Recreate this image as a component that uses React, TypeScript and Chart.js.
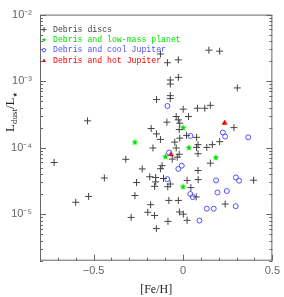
import React, { useEffect, useRef } from "react";
import { Chart, registerables } from "chart.js";

Chart.register(...registerables);

// ---- data ----
const seriesLabels = [
  "Debris discs",
  "Debris and low-mass planet",
  "Debris and cool Jupiter",
  "Debris and hot Jupiter",
];

const discsFeH = [
  -0.534, -0.721, -0.44, -0.32, -0.26, -0.528, -0.6, -0.269, -0.29, -0.228,
  0.145, 0.205, -0.126, -0.026, -0.087, -0.026, -0.071, -0.071, 0.304, -0.148,
  -0.071, -0.071, 0.001, 0.081, 0.122, 0.153, -0.09, -0.038, -0.026, -0.018,
  0.031, -0.021, -0.178, -0.148, -0.126, -0.018, -0.046, 0.02, 0.076, -0.168,
  -0.038, 0.076, 0.084, 0.133, 0.164, 0.205, 0.285, -0.021, -0.06, -0.032,
  0.084, 0.153, -0.126, -0.117, 0.084, -0.186, -0.153, -0.153, -0.109, 0.023,
  0.085, 0.395, -0.071, -0.085, -0.159, 0.044, 0.074, -0.079, -0.026, -0.181,
  0.236, -0.197, -0.159, -0.02, 0.002, 0.023, -0.084, -0.149,
];
const discsL = [
  2.53e-4, 5.98e-5, 3.5e-5, 6.68e-5, 2.99e-5, 1.85e-5, 1.51e-5, 1.91e-5, 8.95e-6, 4.79e-5,
  2.92e-3, 2.82e-3, 2.56e-3, 2.09e-3, 1.89e-3, 1.14e-3, 1.04e-3, 9.04e-4, 7.91e-4, 5.28e-4,
  6.05e-4, 5.47e-4, 3.79e-4, 3.91e-4, 3.91e-4, 4.33e-4, 2.42e-4, 2.94e-4, 2.62e-4, 2.33e-4,
  2.94e-4, 1.87e-4, 1.94e-4, 1.61e-4, 1.33e-4, 1.39e-4, 1.21e-4, 1.53e-4, 1.43e-4, 9.9e-5,
  9.9e-5, 1.01e-4, 1.11e-4, 1.01e-4, 1.11e-4, 1.23e-4, 2.0e-4, 7.96e-5, 6.73e-5, 7.2e-5,
  8.1e-5, 5.85e-5, 4.82e-5, 5.36e-5, 4.53e-5, 3.66e-5, 3.56e-5, 3.06e-5, 3.44e-5, 3.22e-5,
  3.31e-5, 3.24e-5, 2.84e-5, 2.59e-5, 2.62e-5, 2.51e-5, 1.82e-5, 1.61e-5, 1.61e-5, 1.39e-5,
  1.42e-5, 1.07e-5, 9.55e-6, 1.08e-5, 1.0e-5, 8.09e-6, 7.8e-6, 6.07e-6,
];

const lowMassFeH = [-0.269, 0.001, 0.033, -0.098, 0.184, 0.0];
const lowMassL = [1.22e-4, 2.01e-4, 1.01e-4, 7.4e-5, 7.15e-5, 2.61e-5];

const coolFeH = [
  -0.087, 0.042, 0.223, 0.236, 0.365, -0.078, -0.007, -0.026, -0.088, 0.185,
  0.296, 0.314, 0.041, 0.055, 0.193, 0.245, 0.133, 0.172, 0.295, 0.092,
];
const coolL = [
  4.23e-4, 1.5e-4, 1.69e-4, 1.47e-4, 1.43e-4, 8.45e-5, 5.36e-5, 4.79e-5, 3.36e-5, 3.22e-5,
  3.56e-5, 3.19e-5, 2.01e-5, 1.81e-5, 2.12e-5, 2.23e-5, 1.21e-5, 1.21e-5, 1.32e-5, 8.01e-6,
];

const hotFeH = [0.233, -0.067];
const hotL = [2.35e-4, 7.91e-5];

const xTickValues = [-0.5, 0, 0.5];
const yTickValues = [1e-5, 1e-4, 1e-3, 1e-2];
const xRange = [-0.8, 0.5];
const yRange = [2e-6, 1e-2];

// ---- styles ----
const COLORS = ["#444444", "#00e000", "#5050ff", "#ff0000"];
const AXIS_COLOR = "#666666";

const SUP: Record<string, string> = {
  "-": "\u207B", "0": "\u2070", "1": "\u00B9", "2": "\u00B2", "3": "\u00B3",
  "4": "\u2074", "5": "\u2075", "6": "\u2076", "7": "\u2077", "8": "\u2078", "9": "\u2079",
};

function starPath(ctx: CanvasRenderingContext2D, cx: number, cy: number, r: number) {
  ctx.beginPath();
  for (let i = 0; i < 10; i++) {
    const rr = i % 2 === 0 ? r : r * 0.45;
    const a = -Math.PI / 2 + (i * Math.PI) / 5;
    const px = cx + rr * Math.cos(a);
    const py = cy + rr * Math.sin(a);
    if (i === 0) ctx.moveTo(px, py);
    else ctx.lineTo(px, py);
  }
  ctx.closePath();
}

function makeStar(r: number, color: string) {
  const c = document.createElement("canvas");
  const s = Math.ceil(r * 2 + 2);
  c.width = s;
  c.height = s;
  const g = c.getContext("2d")!;
  g.fillStyle = color;
  starPath(g, s / 2, s / 2 + 0.3, r);
  g.fill();
  return c;
}

const zip = (xs: number[], ys: number[]) => xs.map((x, i) => ({ x, y: ys[i] }));

const decorPlugin = {
  id: "decor",
  afterDatasetsDraw(chart: any) {
    const ctx: CanvasRenderingContext2D = chart.ctx;
    const { left, right, top, bottom } = chart.chartArea;
    const xs = chart.scales.x;
    const ys = chart.scales.y;
    ctx.save();
    // frame
    ctx.strokeStyle = AXIS_COLOR;
    ctx.lineWidth = 1;
    ctx.strokeRect(left + 0.5, top + 0.5, right - left - 1, bottom - top - 1);
    // y ticks (left and right, inward)
    ctx.beginPath();
    for (let d = -6; d <= -2; d++) {
      for (let m = 1; m <= 9; m++) {
        const v = m * Math.pow(10, d);
        if (v < yRange[0] * 0.999 || v > yRange[1] * 1.001) continue;
        const py = Math.round(ys.getPixelForValue(v)) + 0.5;
        const len = m === 1 ? 6 : 3;
        ctx.moveTo(left, py);
        ctx.lineTo(left + len, py);
        ctx.moveTo(right, py);
        ctx.lineTo(right - len, py);
      }
    }
    // x ticks (bottom, inward)
    for (let i = -8; i <= 5; i++) {
      const v = i / 10;
      const px = Math.round(xs.getPixelForValue(v)) + 0.5;
      const len = i % 5 === 0 ? 6 : 3;
      ctx.moveTo(px, bottom);
      ctx.lineTo(px, bottom - len);
    }
    ctx.stroke();

    // legend
    const lx = left + 4;
    const tx = left + 13;
    const rowY = [top + 15, top + 25.3, top + 35.6, top + 46];
    ctx.font = "8.2px 'Liberation Mono', monospace";
    ctx.textBaseline = "middle";
    ctx.textAlign = "left";
    rowY.forEach((yy, i) => {
      ctx.fillStyle = COLORS[i];
      ctx.strokeStyle = COLORS[i];
      ctx.lineWidth = 1;
      if (i === 0) {
        ctx.beginPath();
        ctx.moveTo(lx - 2.5, yy);
        ctx.lineTo(lx + 2.5, yy);
        ctx.moveTo(lx, yy - 2.5);
        ctx.lineTo(lx, yy + 2.5);
        ctx.stroke();
      } else if (i === 1) {
        starPath(ctx, lx, yy, 2.4);
        ctx.fill();
      } else if (i === 2) {
        ctx.beginPath();
        ctx.arc(lx, yy, 1.7, 0, Math.PI * 2);
        ctx.stroke();
      } else {
        ctx.beginPath();
        ctx.moveTo(lx, yy - 2);
        ctx.lineTo(lx + 2, yy + 1.5);
        ctx.lineTo(lx - 2, yy + 1.5);
        ctx.closePath();
        ctx.fill();
      }
      ctx.fillText(seriesLabels[i], tx, yy);
    });

    // y title: L_dust / L_star
    ctx.fillStyle = "#222222";
    ctx.textBaseline = "alphabetic";
    const big = "13px 'Liberation Serif', serif";
    const small = "9px 'Liberation Serif', serif";
    const parts: [string, string, number][] = [
      ["L", big, 0],
      ["dust", small, 3],
      ["/L", big, 0],
      ["\u2605", "6px 'DejaVu Sans', sans-serif", 3],
    ];
    let total = 0;
    parts.forEach(([t, f]) => {
      ctx.font = f;
      total += ctx.measureText(t).width;
    });
    ctx.save();
    ctx.translate(14, 112 + total / 2);
    ctx.rotate(-Math.PI / 2);
    let cx = 0;
    parts.forEach(([t, f, dy]) => {
      ctx.font = f;
      ctx.fillText(t, cx, dy);
      cx += ctx.measureText(t).width;
    });
    ctx.restore();

    // x title
    ctx.font = "12px 'Liberation Serif', serif";
    ctx.textAlign = "center";
    ctx.textBaseline = "middle";
    ctx.fillText("[Fe/H]", (left + right) / 2, 290);
    ctx.restore();
  },
};

export default function App() {
  const ref = useRef<HTMLCanvasElement | null>(null);
  useEffect(() => {
    if (!ref.current) return;
    const star = makeStar(3.5, COLORS[1]);
    const chart = new Chart(ref.current, {
      type: "scatter",
      data: {
        datasets: [
          {
            label: seriesLabels[0],
            data: zip(discsFeH, discsL),
            pointStyle: "cross",
            pointRadius: 3.5,
            borderColor: COLORS[0],
            backgroundColor: COLORS[0],
            borderWidth: 1,
          },
          {
            label: seriesLabels[1],
            data: zip(lowMassFeH, lowMassL),
            pointStyle: star as any,
            pointRadius: 3.5,
            borderColor: COLORS[1],
            backgroundColor: COLORS[1],
          },
          {
            label: seriesLabels[2],
            data: zip(coolFeH, coolL),
            pointStyle: "circle",
            pointRadius: 2.5,
            borderColor: COLORS[2],
            backgroundColor: "rgba(0,0,0,0)",
            borderWidth: 1,
          },
          {
            label: seriesLabels[3],
            data: zip(hotFeH, hotL),
            pointStyle: "triangle",
            pointRadius: 3,
            borderColor: COLORS[3],
            backgroundColor: COLORS[3],
            borderWidth: 0.5,
          },
        ],
      },
      options: {
        responsive: false,
        animation: false,
        events: [],
        layout: { padding: { top: 7, right: 8, left: 0, bottom: 0 } },
        plugins: {
          legend: { display: false },
          tooltip: { enabled: false },
          title: { display: false },
        },
        scales: {
          x: {
            type: "linear",
            min: xRange[0],
            max: xRange[1],
            afterBuildTicks: (s: any) => {
              s.ticks = xTickValues.map((v) => ({ value: v }));
            },
            afterFit: (s: any) => {
              s.height = 36.3;
            },
            grid: { display: false, drawTicks: false },
            border: { display: false },
            ticks: {
              autoSkip: false,
              maxRotation: 0,
              padding: 4,
              color: "#666666",
              font: { family: "'Liberation Sans', sans-serif", size: 11 },
              callback: (v: any) => {
                const n = Number(v);
                if (n === 0) return "0";
                return n < 0 ? "\u2212" + String(Math.abs(n)) : String(n);
              },
            },
          },
          y: {
            type: "logarithmic",
            min: yRange[0],
            max: yRange[1],
            afterBuildTicks: (s: any) => {
              s.ticks = yTickValues.map((v) => ({ value: v }));
            },
            afterFit: (s: any) => {
              s.width = 40;
            },
            grid: { display: false, drawTicks: false },
            border: { display: false },
            ticks: {
              autoSkip: false,
              padding: 8,
              color: "#666666",
              font: { family: "'Liberation Sans', sans-serif", size: 11 },
              callback: (v: any) => {
                const e = Math.round(Math.log10(Number(v)));
                return "10" + String(e).split("").map((c) => SUP[c] || c).join("");
              },
            },
          },
        },
      },
      plugins: [decorPlugin],
    });
    return () => chart.destroy();
  }, []);
  return (
    <div style={{ position: "fixed", left: 0, top: 0, width: 284, height: 297, background: "#fff" }}>
      <canvas ref={ref} width={284} height={297} style={{ display: "block" }} />
    </div>
  );
}
